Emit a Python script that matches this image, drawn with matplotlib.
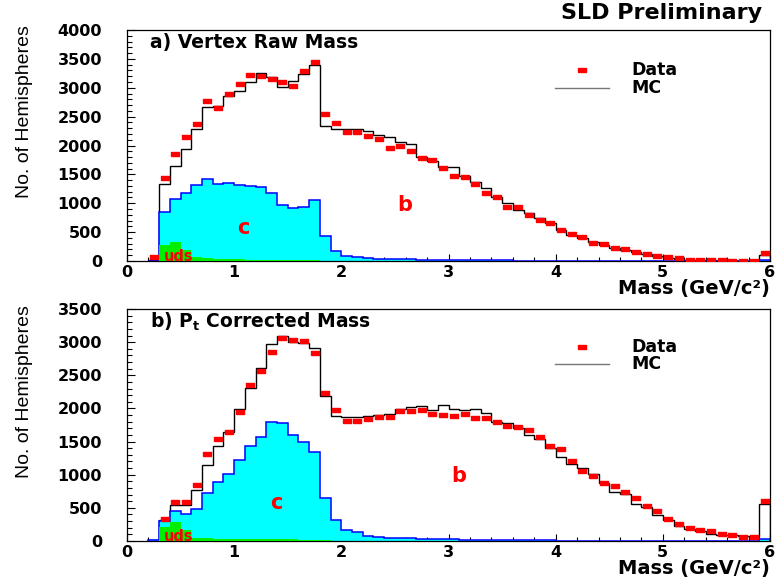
import numpy as np
import matplotlib
matplotlib.use("Agg")
import matplotlib.pyplot as plt
from matplotlib.ticker import MultipleLocator

plt.rcParams['mathtext.fontset'] = 'dejavusans'
plt.rcParams['mathtext.default'] = 'bf'

# 0.1 GeV bins from 0.2 to 6.0 (last bin holds the overflow)
edges = np.round(np.linspace(0.2, 6.0, 59), 1)
centers = 0.5 * (edges[:-1] + edges[1:])

# a) Vertex raw mass
raw_data = [75, 1431, 1851, 2150, 2370, 2763, 2647, 2889, 3057, 3218,
            3212, 3143, 3097, 3028, 3287, 3448, 2548, 2382, 2237, 2237,
            2163, 2111, 1960, 1995, 1908, 1782, 1753, 1604, 1476, 1453,
            1332, 1171, 1102, 940, 929, 790, 715, 652, 540, 463,
            410, 317, 294, 230, 208, 161, 121, 92, 64, 46,
            25, 18, 12, 10, 8, 6, 5, 144]
raw_mc = [20, 1327, 1649, 1938, 2289, 2659, 2682, 2855, 2941, 3092,
          3247, 3189, 3005, 3119, 3230, 3391, 2341, 2289, 2289, 2289,
          2249, 2190, 2150, 2053, 2019, 1805, 1730, 1632, 1620, 1476,
          1372, 1257, 1113, 998, 882, 825, 749, 652, 536, 450,
          395, 330, 280, 225, 195, 150, 115, 85, 60, 40,
          20, 15, 10, 8, 7, 5, 4, 104]
raw_c = [5, 853, 1067, 1171, 1310, 1424, 1332, 1349, 1315, 1303,
         1285, 1171, 969, 912, 940, 1050, 433, 178, 92, 75,
         46, 40, 35, 30, 28, 25, 22, 20, 18, 15,
         13, 12, 10, 9, 8, 7, 6, 5, 5, 4,
         4, 3, 3, 3, 2, 2, 2, 2, 2, 2,
         1, 1, 1, 1, 1, 1, 1, 20]
raw_uds = [0, 277, 323, 190, 75, 57, 40, 35, 30, 25,
           22, 20, 17, 15, 12, 10, 8, 5, 3, 2,
           2, 1, 1, 1, 1, 0, 0, 0, 0, 0,
           0, 0, 0, 0, 0, 0, 0, 0, 0, 0,
           0, 0, 0, 0, 0, 0, 0, 0, 0, 0,
           0, 0, 0, 0, 0, 0, 0, 0]

# b) Pt corrected mass
pt_data = [0, 338, 595, 585, 842, 1311, 1538, 1648, 1950, 2349,
           2570, 2849, 3060, 3034, 3015, 2833, 2238, 1976, 1814, 1814,
           1835, 1865, 1865, 1966, 1956, 1976, 1915, 1900, 1885, 1910,
           1850, 1860, 1790, 1734, 1724, 1674, 1573, 1436, 1382, 1210,
           1058, 978, 868, 832, 732, 656, 525, 449, 339, 252,
           203, 162, 147, 112, 97, 60, 60, 600]
pt_mc = [10, 313, 550, 550, 767, 1145, 1436, 1639, 1991, 2304,
         2607, 2969, 3095, 3009, 2984, 2918, 2188, 1890, 1865, 1870,
         1885, 1900, 1915, 1991, 2017, 2041, 1976, 2052, 1991, 1976,
         1986, 1926, 1800, 1775, 1709, 1598, 1533, 1397, 1270, 1160,
         1095, 1004, 868, 741, 702, 565, 514, 389, 313, 227,
         188, 151, 112, 97, 86, 71, 60, 565]
pt_c = [10, 300, 449, 414, 490, 726, 888, 1008, 1220, 1436,
        1572, 1799, 1775, 1598, 1497, 1337, 656, 313, 172, 136,
        80, 60, 51, 45, 40, 35, 30, 28, 25, 22,
        20, 18, 15, 13, 11, 10, 9, 8, 7, 6,
        5, 5, 4, 4, 3, 3, 3, 2, 2, 2,
        2, 2, 2, 2, 2, 2, 2, 30]
pt_uds = [0, 212, 287, 162, 51, 40, 35, 30, 30, 28,
          28, 30, 28, 25, 22, 20, 10, 6, 4, 3,
          2, 2, 1, 1, 1, 0, 0, 0, 0, 0,
          0, 0, 0, 0, 0, 0, 0, 0, 0, 0,
          0, 0, 0, 0, 0, 0, 0, 0, 0, 0,
          0, 0, 0, 0, 0, 0, 0, 0]

panels = [
    dict(data=raw_data, mc=raw_mc, c=raw_c, uds=raw_uds, ymax=4000,
         title="a) Vertex Raw Mass", b_pos=(2.59, 977), c_pos=(1.09, 571), uds_pos=(0.48, 75),
         leg_y=0.826, pos=[127/776, 1-261/587, 643/776, 231/587]),
    dict(data=pt_data, mc=pt_mc, c=pt_c, uds=pt_uds, ymax=3500,
         title="b) $P_t$ Corrected Mass", b_pos=(3.1, 978), c_pos=(1.39, 570), uds_pos=(0.48, 70),
         leg_y=0.838, pos=[127/776, 1-541/587, 643/776, 232/587]),
]

# wide flat marker like the ROOT data points
rect = [(-1.8, -1), (1.8, -1), (1.8, 1), (-1.8, 1), (-1.8, -1)]

fig = plt.figure(figsize=(7.76, 5.87), dpi=100)
tfont = dict(family='DejaVu Sans', weight='bold')
yfont = ['Liberation Sans Narrow', 'Liberation Sans', 'DejaVu Sans']

for p in panels:
    ax = fig.add_axes(p['pos'])
    ax.stairs(p['mc'], edges, color='black', lw=1.0, zorder=1)
    ax.stairs(p['c'], edges, fill=True, color='#00ffff', lw=0, zorder=2)
    ax.stairs(p['c'], edges, color='#0000ff', lw=1.1, zorder=3)
    ax.stairs(p['uds'], edges, fill=True, color='#00ee00', lw=0, zorder=4)
    d = np.array(p['data'], dtype=float)
    ok = d > 0
    ax.plot(centers[ok], d[ok], ls='none', marker=rect, ms=6.3, color='#ff0000',
            mec='#ff0000', zorder=5)

    ax.set_xlim(0, 6)
    ax.set_ylim(0, p['ymax'])
    ax.xaxis.set_major_locator(MultipleLocator(1))
    ax.xaxis.set_minor_locator(MultipleLocator(0.2))
    ax.yaxis.set_major_locator(MultipleLocator(500))
    ax.yaxis.set_minor_locator(MultipleLocator(100))
    ax.tick_params(which='both', direction='in', top=False, right=False, width=0.8)
    ax.tick_params(axis='x', which='major', length=5, pad=3)
    ax.tick_params(axis='x', which='minor', length=3)
    ax.tick_params(axis='y', which='major', length=6, pad=18)
    ax.tick_params(axis='y', which='minor', length=3.5)
    for lab in ax.get_xticklabels() + ax.get_yticklabels():
        lab.set_fontfamily('DejaVu Sans')
        lab.set_fontweight('bold')
        lab.set_fontsize(11.5)
    for sp in ax.spines.values():
        sp.set_linewidth(0.9)

    ax.text(0.036, 0.945, p['title'], transform=ax.transAxes, fontsize=13.5,
            va='center', ha='left', **tfont)
    ax.text(1.0, -0.12, "Mass (GeV/c²)", transform=ax.transAxes, fontsize=14,
            va='center', ha='right', **tfont)
    ax.text(*p['b_pos'], "b", color='#ff0000', fontsize=15, ha='center', va='center',
            zorder=6, **tfont)
    ax.text(*p['c_pos'], "c", color='#ff0000', fontsize=15, ha='center', va='center',
            zorder=6, **tfont)
    ax.text(*p['uds_pos'], "uds", color='#ff0000', fontsize=10.5, ha='center',
            va='center', zorder=6, **tfont)

    # legend drawn by hand in axes fractions
    ly = p['leg_y']
    ax.plot([0.7076], [ly], transform=ax.transAxes, ls='none', marker=rect, ms=6.3,
            color='#ff0000')
    ax.plot([0.666, 0.750], [ly - 0.075, ly - 0.075], transform=ax.transAxes,
            color='#777777', lw=1.0)
    ax.text(0.785, ly, "Data", transform=ax.transAxes, fontsize=12.5, va='center', **tfont)
    ax.text(0.785, ly - 0.075, "MC", transform=ax.transAxes, fontsize=12.5, va='center', **tfont)

fig.text(25/776, 1-112/587, "No. of Hemispheres", rotation=90, ha='center', va='center',
         fontsize=14, family=yfont)
fig.text(25/776, 1-392/587, "No. of Hemispheres", rotation=90, ha='center', va='center',
         fontsize=14, family=yfont)
fig.text(762/776, 1-13/587, "SLD Preliminary", ha='right', va='center', fontsize=16, **tfont)

fig.savefig("out.png", dpi=100)
